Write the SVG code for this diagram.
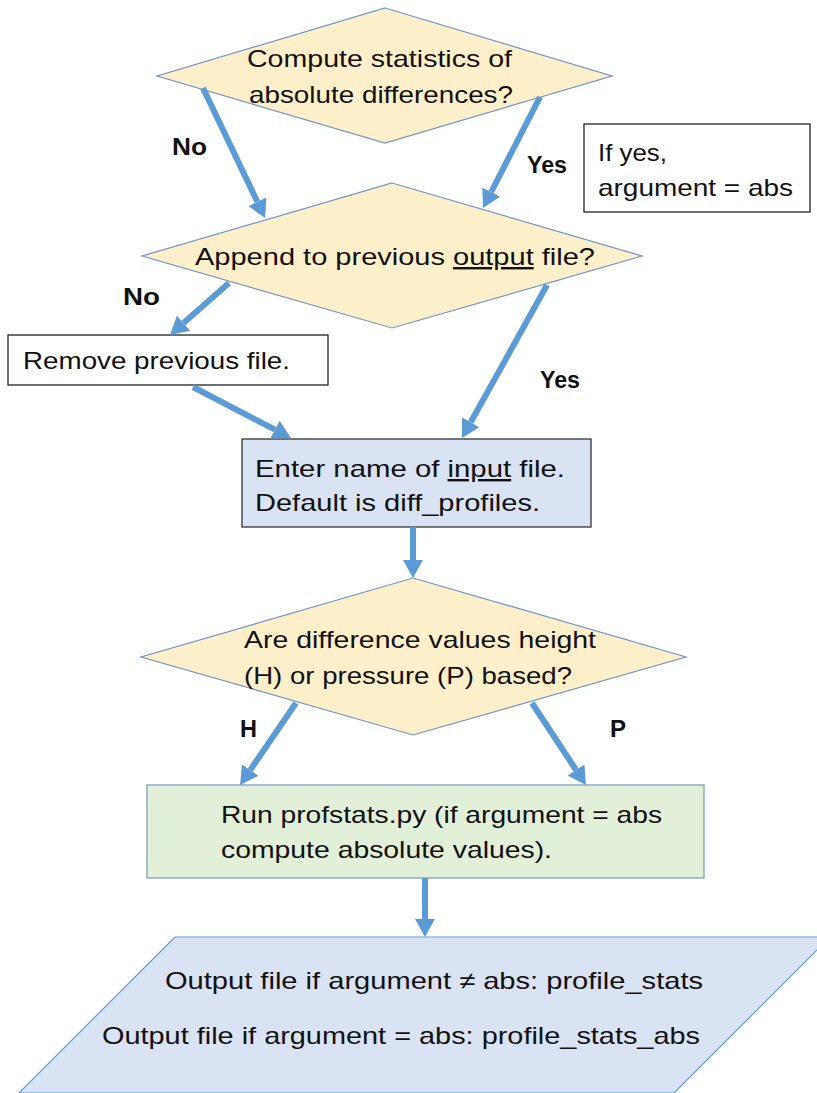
<svg xmlns="http://www.w3.org/2000/svg" width="817" height="1093" viewBox="0 0 817 1093">
  <style>
    .t { font-family: "Liberation Sans", Arial, sans-serif; font-size: 24px; fill: #111; }
    .lbl { font-family: "Liberation Sans", Arial, sans-serif; font-size: 23px; font-weight: bold; fill: #111; }
    .dec { fill: #FEEFCB; stroke: #6F95C8; stroke-width: 1.2; }
    .plain { fill: #FFFFFF; stroke: #222; stroke-width: 1.3; }
    .u { text-decoration: underline; }
    .conn { stroke: #5B9BD5; stroke-width: 6; fill: none; marker-end: url(#head); }
  </style>
  <defs>
    <marker id="head" markerUnits="userSpaceOnUse" markerWidth="18" markerHeight="20" refX="0" refY="10" orient="auto">
      <path d="M0,0 L18,10 L0,20 z" fill="#5B9BD5"/>
    </marker>
  </defs>
  <rect width="817" height="1093" fill="#FFFFFF"/>

  <!-- decision: absolute differences -->
  <g id="q-abs">
    <polygon class="dec" points="385,8 612,76 385,143 157,76"/>
    <text class="t" x="247" y="67" textLength="265" lengthAdjust="spacingAndGlyphs">Compute statistics of</text>
    <text class="t" x="249" y="103" textLength="264" lengthAdjust="spacingAndGlyphs">absolute differences?</text>
  </g>

  <!-- note: argument -->
  <g id="note-abs">
    <rect class="plain" x="584" y="124" width="226" height="88"/>
    <text class="t" x="598" y="161" textLength="69" lengthAdjust="spacingAndGlyphs">If yes,</text>
    <text class="t" x="598" y="196" textLength="195" lengthAdjust="spacingAndGlyphs">argument = abs</text>
  </g>

  <!-- decision: append -->
  <g id="q-append">
    <polygon class="dec" points="392,183 642,256 392,328 142,256"/>
    <text class="t" x="195" y="265" textLength="400" lengthAdjust="spacingAndGlyphs">Append to previous <tspan class="u">output</tspan> file?</text>
  </g>

  <!-- remove previous file -->
  <g id="remove">
    <rect class="plain" x="8" y="335" width="320" height="50"/>
    <text class="t" x="23" y="369" textLength="267" lengthAdjust="spacingAndGlyphs">Remove previous file.</text>
  </g>

  <!-- input file name -->
  <g id="input">
    <rect x="242" y="439" width="349" height="88" fill="#DAE3F3" stroke="#333" stroke-width="1.3"/>
    <text class="t" x="255" y="477" textLength="310" lengthAdjust="spacingAndGlyphs">Enter name of <tspan class="u">input</tspan> file.</text>
    <text class="t" x="255" y="511" textLength="285" lengthAdjust="spacingAndGlyphs">Default is diff_profiles.</text>
  </g>

  <!-- decision: height or pressure -->
  <g id="q-hp">
    <polygon class="dec" points="413,578 686,657 413,735 141,657"/>
    <text class="t" x="244" y="648" textLength="352" lengthAdjust="spacingAndGlyphs">Are difference values height</text>
    <text class="t" x="244" y="684" textLength="328" lengthAdjust="spacingAndGlyphs">(H) or pressure (P) based?</text>
  </g>

  <!-- run profstats -->
  <g id="run">
    <rect x="147" y="785" width="557" height="93" fill="#E2F0D9" stroke="#7C9DC7" stroke-width="1.3"/>
    <text class="t" x="221" y="823" textLength="441" lengthAdjust="spacingAndGlyphs">Run profstats.py (if argument = abs</text>
    <text class="t" x="221" y="858" textLength="331" lengthAdjust="spacingAndGlyphs">compute absolute values).</text>
  </g>

  <!-- output files -->
  <g id="output">
    <polygon points="175,937 830,937 674,1093 19,1093" fill="#DAE3F3" stroke="#5B9BD5" stroke-width="1.2"/>
    <text class="t" x="165" y="989" textLength="538" lengthAdjust="spacingAndGlyphs">Output file if argument ≠ abs: profile_stats</text>
    <text class="t" x="102" y="1044" textLength="598" lengthAdjust="spacingAndGlyphs">Output file if argument = abs: profile_stats_abs</text>
  </g>

  <!-- connectors -->
  <g id="connectors">
    <path class="conn" d="M203,88 L257.3,201.8"/>
    <path class="conn" d="M540,97 L491.2,192"/>
    <path class="conn" d="M229,283 L183.5,323.1"/>
    <path class="conn" d="M547,285 L470.7,422.3"/>
    <path class="conn" d="M193,387 L275,429.7"/>
    <path class="conn" d="M413,527 L413,560"/>
    <path class="conn" d="M296,703 L250.2,770.1"/>
    <path class="conn" d="M532,703 L576.1,770"/>
    <path class="conn" d="M425,878 L425,919"/>
    <text class="lbl" x="172" y="155" textLength="35" lengthAdjust="spacingAndGlyphs">No</text>
    <text class="lbl" x="527" y="173" textLength="40" lengthAdjust="spacingAndGlyphs">Yes</text>
    <text class="lbl" x="123" y="305" textLength="37" lengthAdjust="spacingAndGlyphs">No</text>
    <text class="lbl" x="540" y="388" textLength="40" lengthAdjust="spacingAndGlyphs">Yes</text>
    <text class="lbl" x="240" y="737" textLength="17" lengthAdjust="spacingAndGlyphs">H</text>
    <text class="lbl" x="610" y="737" textLength="16" lengthAdjust="spacingAndGlyphs">P</text>
  </g>
</svg>
